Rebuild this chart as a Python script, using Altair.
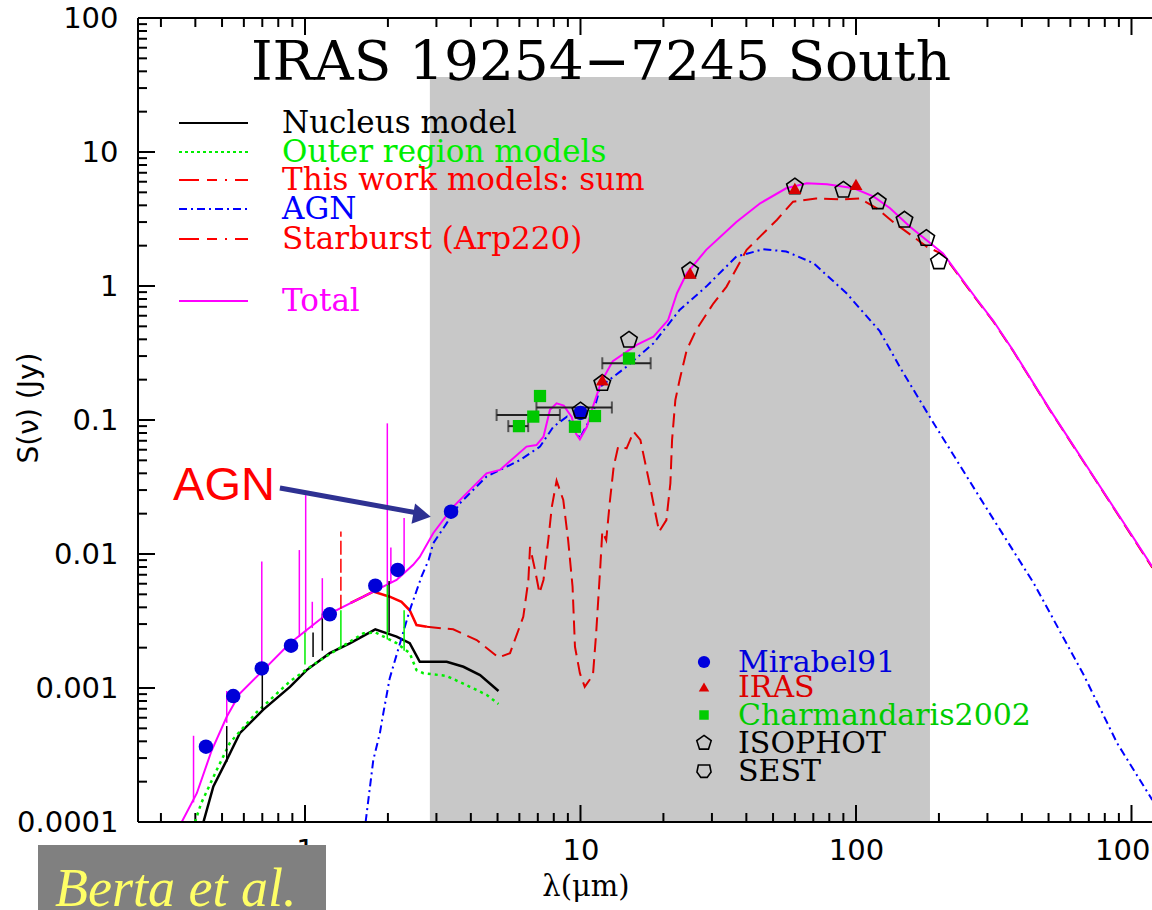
import altair as alt
import pandas as pd

# ---------------- data (wavelength in micron, flux density in Jy) ----------------
tot_lam = [0.357, 0.405, 0.458, 0.52, 0.58, 0.706, 0.882, 1.166, 1.63, 1.82,
           2.15, 2.47, 2.61, 2.92, 3.45, 4.56, 5.1, 6.37, 6.92, 7.34,
           7.75, 8.19, 8.7, 9.3, 9.64, 9.95, 10.55, 11.1, 11.9, 13.1,
           16.0, 18.4, 20.8, 22.4, 24.3, 28.6, 36.8, 44.9, 55.8, 66.3,
           78.5, 98.3, 116, 133, 157, 207, 274, 315, 372, 505, 770, 1190]
tot_S = [1e-4, 1.64e-4, 3.4e-4, 6.1e-4, 9.1e-4, 1.36e-3, 2.16e-3, 3.4e-3, 4.8e-3, 5.4e-3,
         6.4e-3, 8.3e-3, 9.5e-3, 0.0143, 0.0225, 0.040, 0.0424, 0.0633, 0.065, 0.075,
         0.119, 0.133, 0.128, 0.105, 0.079, 0.0717, 0.089, 0.126, 0.193, 0.275,
         0.363, 0.419, 0.557, 0.883, 1.245, 1.86, 3.0, 4.14, 5.36, 5.84,
         5.74, 5.36, 4.64, 3.8, 2.77, 1.75, 0.80, 0.55, 0.33, 0.12, 0.0318, 0.00803]

agn_lam = [1.66, 1.77, 1.87, 1.925, 2.03, 2.40, 2.65, 2.81, 2.92, 3.27, 3.65, 4.56, 6.03,
           7.13, 7.97, 8.93, 9.95, 11.1, 11.8, 14.7, 18.4, 22.9, 28.6, 36.8, 46.1,
           55.8, 70.1, 92.4, 122, 144, 185, 290, 442, 671, 888, 1190]
agn_S = [1e-4, 2.9e-4, 4.6e-4, 6.5e-4, 1.18e-3, 3.8e-3, 6.8e-3, 9.0e-3, 0.012, 0.017, 0.0239, 0.0378, 0.0502,
         0.0633, 0.089, 0.106, 0.073, 0.112, 0.177, 0.25, 0.373, 0.662, 0.99, 1.66, 1.88,
         1.81, 1.48, 0.883, 0.46, 0.25, 0.106, 0.0239, 6.04e-3, 1.25e-3, 3.86e-4, 1.46e-4]

sb_lam = [1.46, 1.63, 1.77, 2.03, 2.24, 2.40, 2.54, 2.77, 3.45, 4.2, 5.04, 5.55, 6.2, 6.47,
          6.56, 6.84, 7.1, 7.34, 7.64, 7.87, 8.19, 8.66, 9.02, 9.36, 9.55, 9.95, 10.36, 11.1,
          11.4, 11.8, 12.0, 12.4, 12.8, 13.2, 13.7, 14.7, 15.6, 16.5, 17.8, 18.6, 19.3, 20.5,
          21.2, 21.5, 22.1, 22.9, 24.3, 26.3, 30.4, 33.9, 40.1, 51.6, 59.1, 71.6, 89.8, 103,
          119, 136, 181, 207, 274, 315, 372, 505, 770, 1190]
sb_S = [4.3e-3, 4.8e-3, 5.24e-3, 4.8e-3, 4.4e-3, 3.8e-3, 2.95e-3, 2.86e-3, 2.74e-3, 2.28e-3,
        1.69e-3, 1.82e-3, 3.4e-3, 6.4e-3, 0.0113, 7.6e-3, 5.1e-3, 6.4e-3, 0.0127, 0.0225,
        0.0352, 0.0253, 0.0127, 5.7e-3, 2.03e-3, 1.29e-3, 1.02e-3, 1.25e-3, 2.56e-3, 8.0e-3,
        0.0147, 0.0127, 0.0253, 0.0449, 0.0633, 0.0615, 0.0818, 0.071, 0.0337, 0.0213,
        0.0147, 0.0179, 0.0337, 0.071, 0.141, 0.199, 0.333, 0.47, 0.743, 0.99,
        1.86, 3.11, 4.26, 4.5, 4.43, 4.5, 3.8, 3.02, 1.96, 1.72, 0.79, 0.545, 0.327, 0.119,
        0.0315, 0.0079]

nuc_lam = [0.428, 0.465, 0.52, 0.58, 0.706, 0.882, 1.014, 1.23, 1.46, 1.80, 2.15, 2.40,
           2.61, 3.27, 3.76, 4.32, 5.04]
nuc_S = [1e-4, 1.84e-4, 2.9e-4, 4.6e-4, 6.9e-4, 1.02e-3, 1.36e-3, 1.82e-3, 2.16e-3, 2.74e-3,
         2.42e-3, 2.16e-3, 1.57e-3, 1.57e-3, 1.44e-3, 1.25e-3, 9.5e-4]

out_lam = [0.399, 0.42, 0.478, 0.534, 0.668, 0.882, 1.07, 1.30, 1.63, 1.80, 2.15, 2.40,
           2.54, 2.69, 3.27, 3.97, 4.56, 5.04]
out_S = [1e-4, 1.38e-4, 2.44e-4, 3.9e-4, 6.6e-4, 1.12e-3, 1.49e-3, 1.92e-3, 2.56e-3, 2.6e-3,
         2.16e-3, 1.82e-3, 1.36e-3, 1.29e-3, 1.23e-3, 1.02e-3, 8.9e-4, 7.6e-4]

# emission-line spikes in the optical/near-IR models
mag_spk_lam = [0.394, 0.52, 0.697, 0.954, 1.006, 1.063, 1.156, 1.99, 2.05, 2.29]
mag_spk_lo = [1.4e-4, 5.5e-4, 1.3e-3, 2.4e-3, 2.6e-3, 2.8e-3, 3.3e-3, 5.9e-3, 6.1e-3, 7.2e-3]
mag_spk_hi = [4.4e-4, 9.5e-4, 8.8e-3, 0.0107, 0.0275, 4.4e-3, 6.6e-3, 0.0944, 0.0112, 0.0186]
red_spk_lam = [1.35]
red_spk_lo = [3.9e-3]
red_spk_hi = [0.0147]
blk_spk_lam = [0.52, 0.70, 1.07, 1.156, 2.02]
blk_spk_lo = [2.8e-4, 6.9e-4, 1.7e-3, 1.9e-3, 2.6e-3]
blk_spk_hi = [5.2e-4, 1.4e-3, 2.6e-3, 3.6e-3, 6.3e-3]
grn_spk_lam = [1.0, 1.35, 1.99, 2.29]
grn_spk_lo = [1.5e-3, 2.0e-3, 2.3e-3, 1.9e-3]
grn_spk_hi = [2.6e-3, 3.8e-3, 5.9e-3, 3.8e-3]

# photometry
mir_lam = [0.437, 0.549, 0.697, 0.89, 1.23, 1.80, 2.17, 3.39, 10.0]
mir_S = [3.65e-4, 8.7e-4, 1.40e-3, 2.07e-3, 3.55e-3, 5.8e-3, 7.6e-3, 0.0207, 0.113]
iras_lam = [12, 25, 60, 100]
iras_S = [0.199, 1.25, 5.36, 5.74]
cha_lam = [5.98, 6.74, 7.13, 9.55, 11.29, 15.0]
cha_S = [0.090, 0.106, 0.151, 0.089, 0.107, 0.288]
iso_lam = [10.0, 12, 15, 25, 60, 90, 120, 150, 180, 200]
iso_S = [0.117, 0.188, 0.395, 1.30, 5.5, 5.2, 4.26, 3.11, 2.27, 1.52]

# horizontal error bars
eb_lo = [4.96, 6.92, 5.47, 12.0]
eb_hi = [8.42, 13.0, 6.46, 17.98]
eb_S = [0.109, 0.124, 0.090, 0.265]

# shaded band and AGN arrow (data coordinates)
band_lam = [2.84, 185.6]
band_S = [1e-4, 36.3]
arrow_lam = [0.811, 2.57]
arrow_S = [0.0311, 0.0202]
head_lam = [2.66]
head_S = [0.0195]

x_major = [1, 10, 100, 1000]
y_major = [1e-4, 1e-3, 1e-2, 0.1, 1, 10, 100]

# ---------------- chart ----------------
W, H = 1014, 804
XDOM = [0.2477, 1187]
x_minor = [m * 10.0 ** k for k in (-1, 0, 1, 2) for m in range(2, 10) if XDOM[0] < m * 10.0 ** k < XDOM[1]]
y_minor = [m * 10.0 ** k for k in range(-4, 2) for m in range(2, 10)]

xs = alt.Scale(type="log", domain=XDOM, nice=False)
ys = alt.Scale(type="log", domain=[1e-4, 100], nice=False)
xax = alt.Axis(values=x_major, format="~g", domain=False, ticks=False, tickSize=0, grid=False,
               labelFont="DejaVu Sans", labelFontSize=29, labelColor="black", labelPadding=14,
               labelFlush=False, labelOverlap=False, labelBound=False, title=None)
yax = alt.Axis(values=y_major, format="~g", domain=False, ticks=False, tickSize=0, grid=False,
               labelFont="DejaVu Sans", labelFontSize=29, labelColor="black", labelPadding=20,
               labelFlush=False, labelOverlap=False, labelBound=False, title=None)


def X(f="lam"):
    return alt.X(f"{f}:Q", scale=xs, axis=xax)


def Y(f="S"):
    return alt.Y(f"{f}:Q", scale=ys, axis=yax)


def df(l, s):
    return pd.DataFrame({"lam": l, "S": s})


one = pd.DataFrame({"k": [0]})
layers = []

# band
layers.append(alt.Chart(pd.DataFrame({"lam": [band_lam[0]], "lam2": [band_lam[1]],
                                      "S": [band_S[0]], "S2": [band_S[1]]}))
              .mark_rect(color="#c8c8c8").encode(x=X(), x2="lam2:Q", y=Y(), y2="S2:Q"))

# inward ticks
tx_maj = pd.DataFrame({"lam": x_major})
tx_min = pd.DataFrame({"lam": x_minor})
ty_maj = pd.DataFrame({"S": y_major})
ty_min = pd.DataFrame({"S": y_minor})
for d, L in ((tx_maj, 17), (tx_min, 9)):
    layers.append(alt.Chart(d).mark_rule(color="black", strokeWidth=2)
                  .encode(x=X(), y=alt.value(H), y2=alt.value(H - L)))
    layers.append(alt.Chart(d).mark_rule(color="black", strokeWidth=2)
                  .encode(x=X(), y=alt.value(0), y2=alt.value(L)))
for d, L in ((ty_maj, 17), (ty_min, 9)):
    layers.append(alt.Chart(d).mark_rule(color="black", strokeWidth=2)
                  .encode(y=Y(), x=alt.value(0), x2=alt.value(L)))

# model curves
nuc = df(nuc_lam, nuc_S)
out = df(out_lam, out_S)
sb = df(sb_lam, sb_S)
layers.append(alt.Chart(nuc).mark_line(color="black", strokeWidth=2.5, clip=True).encode(x=X(), y=Y()))
layers.append(alt.Chart(out).mark_line(color="#00ee00", strokeWidth=2.5, strokeDash=[3, 4], clip=True)
              .encode(x=X(), y=Y()))
layers.append(alt.Chart(sb[sb.lam <= 2.8]).mark_line(color="#ff0000", strokeWidth=2.5, clip=True)
              .encode(x=X(), y=Y()))
layers.append(alt.Chart(sb[sb.lam >= 2.7]).mark_line(color="#e00000", strokeWidth=2, strokeDash=[14, 7], clip=True)
              .encode(x=X(), y=Y()))
layers.append(alt.Chart(df(agn_lam, agn_S)).mark_line(color="#0000ff", strokeWidth=2, strokeDash=[8, 4, 2, 4], clip=True)
              .encode(x=X(), y=Y()))
layers.append(alt.Chart(df(tot_lam, tot_S)).mark_line(color="#ff00ff", strokeWidth=2, clip=True)
              .encode(x=X(), y=Y()))


def spikes(l, lo, hi, color, dash=None):
    kw = {"strokeDash": dash} if dash else {}
    return (alt.Chart(pd.DataFrame({"lam": l, "S": lo, "S2": hi}))
            .mark_rule(color=color, strokeWidth=1.5, **kw).encode(x=X(), y=Y(), y2="S2:Q"))


layers.append(spikes(blk_spk_lam, blk_spk_lo, blk_spk_hi, "black"))
layers.append(spikes(grn_spk_lam, grn_spk_lo, grn_spk_hi, "#00ee00"))
layers.append(spikes(red_spk_lam, red_spk_lo, red_spk_hi, "#ff0000", [14, 4]))
layers.append(spikes(mag_spk_lam, mag_spk_lo, mag_spk_hi, "#ff00ff"))

# error bars
eb = pd.DataFrame({"lam": eb_lo, "lam2": eb_hi, "S": eb_S})
caps = pd.DataFrame({"lam": eb_lo + eb_hi, "S": eb_S + eb_S})
layers.append(alt.Chart(eb).mark_rule(color="#222222", strokeWidth=2).encode(x=X(), x2="lam2:Q", y=Y()))
layers.append(alt.Chart(caps).mark_tick(color="#222222", orient="vertical", size=12, thickness=2)
              .encode(x=X(), y=Y()))

PENT = "M0,-1L0.951,-0.309L0.588,0.809L-0.588,0.809L-0.951,-0.309Z"
SHIELD = "M-0.8,-0.85L0.8,-0.85L1,0.15L0.45,0.9L-0.45,0.9L-1,0.15Z"

layers.append(alt.Chart(df(cha_lam, cha_S)).mark_point(shape="square", filled=True, size=150, color="#00c800", opacity=1)
              .encode(x=X(), y=Y()))
layers.append(alt.Chart(df(mir_lam, mir_S)).mark_point(shape="circle", filled=True, size=210, color="#0000d8", opacity=1)
              .encode(x=X(), y=Y()))
layers.append(alt.Chart(df(iso_lam, iso_S)).mark_point(shape=PENT, filled=False, size=300, color="black", strokeWidth=1.6, opacity=1)
              .encode(x=X(), y=Y()))
layers.append(alt.Chart(df(iras_lam, iras_S)).mark_point(shape="triangle-up", filled=True, size=170, color="#d80000", opacity=1)
              .encode(x=X(), y=Y()))

# AGN annotation arrow
layers.append(alt.Chart(df(arrow_lam, arrow_S)).mark_line(color="#2e3192", strokeWidth=5).encode(x=X(), y=Y()))
layers.append(alt.Chart(df(head_lam, head_S)).mark_point(shape="triangle-right", angle=10, filled=True, size=420,
                                                        color="#2e3192", opacity=1).encode(x=X(), y=Y()))

# frame
layers.append(alt.Chart(one).mark_rule(color="black", strokeWidth=2)
              .encode(x=alt.value(0), y=alt.value(0), y2=alt.value(H)))
layers.append(alt.Chart(one).mark_rule(color="black", strokeWidth=2)
              .encode(x=alt.value(0), x2=alt.value(W), y=alt.value(0)))
layers.append(alt.Chart(one).mark_rule(color="black", strokeWidth=2)
              .encode(x=alt.value(0), x2=alt.value(W), y=alt.value(H)))


def txt(s, x, y, size, color, font="DejaVu Serif", align="left", baseline="alphabetic", **kw):
    return (alt.Chart(one).mark_text(text=s, align=align, baseline=baseline, fontSize=size, font=font,
                                     color=color, **kw)
            .encode(x=alt.value(x), y=alt.value(y)))


def seg(x1, x2, y, color, dash=None, width=2):
    kw = {"strokeDash": dash} if dash else {}
    return (alt.Chart(one).mark_rule(color=color, strokeWidth=width, **kw)
            .encode(x=alt.value(x1), x2=alt.value(x2), y=alt.value(y)))


# title
layers.append(txt("IRAS 19254\u22127245 South", 463, 62, 55, "black", align="center"))

# upper legend (model lines)
leg = [("Nucleus model", "black", None, 105),
       ("Outer region models", "#00ee00", [3, 3], 134),
       ("This work models: sum", "#ff0000", [20, 8, 10, 8, 2, 8], 162),
       ("AGN", "#0000ff", [8, 4, 2, 4], 191),
       ("Starburst (Arp220)", "#ff0000", [20, 8, 10, 8, 2, 8], 221),
       ("Total", "#ff00ff", None, 283)]
for label, col, dash, yy in leg:
    layers.append(seg(41, 110, yy, col, dash))
    layers.append(txt(label, 144, yy + 10, 31, col))

# lower legend (photometry)
ply = [("Mirabel91", "#0000dd", "circle", True, 150, 644),
       ("IRAS", "#dd0000", "triangle-up", True, 110, 669),
       ("Charmandaris2002", "#00cc00", "square", True, 90, 697),
       ("ISOPHOT", "black", PENT, False, 230, 725),
       ("SEST", "black", SHIELD, False, 200, 753)]
for label, col, shp, fill, sz, yy in ply:
    layers.append(alt.Chart(one).mark_point(shape=shp, filled=fill, size=sz, color=col, opacity=1,
                                            strokeWidth=1.6)
                  .encode(x=alt.value(566), y=alt.value(yy)))
    layers.append(txt(label, 600, yy + 10, 30, col))

# AGN annotation text
layers.append(txt("AGN", 86, 482, 47, "#ff0000", font="Liberation Sans", align="center"))

# axis titles
layers.append(txt("S(\u03bd) (Jy)", -108, 390, 28, "black", font="DejaVu Sans", align="center",
                  baseline="middle", angle=270))
layers.append(txt("\u03bb(\u03bcm)", 448, 878, 29, "black", align="center"))

# Berta et al. tag
layers.append(alt.Chart(one).mark_rect(color="#808080")
              .encode(x=alt.value(-100), x2=alt.value(188), y=alt.value(827), y2=alt.value(892)))
layers.append(txt("Berta et al.", -83, 888, 54, "#ffff66", font="Liberation Serif", fontStyle="italic"))

chart = (alt.layer(*layers)
         .properties(width=W, height=H, background="white",
                     autosize=alt.AutoSizeParams(type="none"),
                     padding={"left": 138, "top": 18, "right": 0, "bottom": 88})
         .configure_view(stroke=None))

chart.save("out.html", embed_options={"renderer": "svg", "actions": False})
